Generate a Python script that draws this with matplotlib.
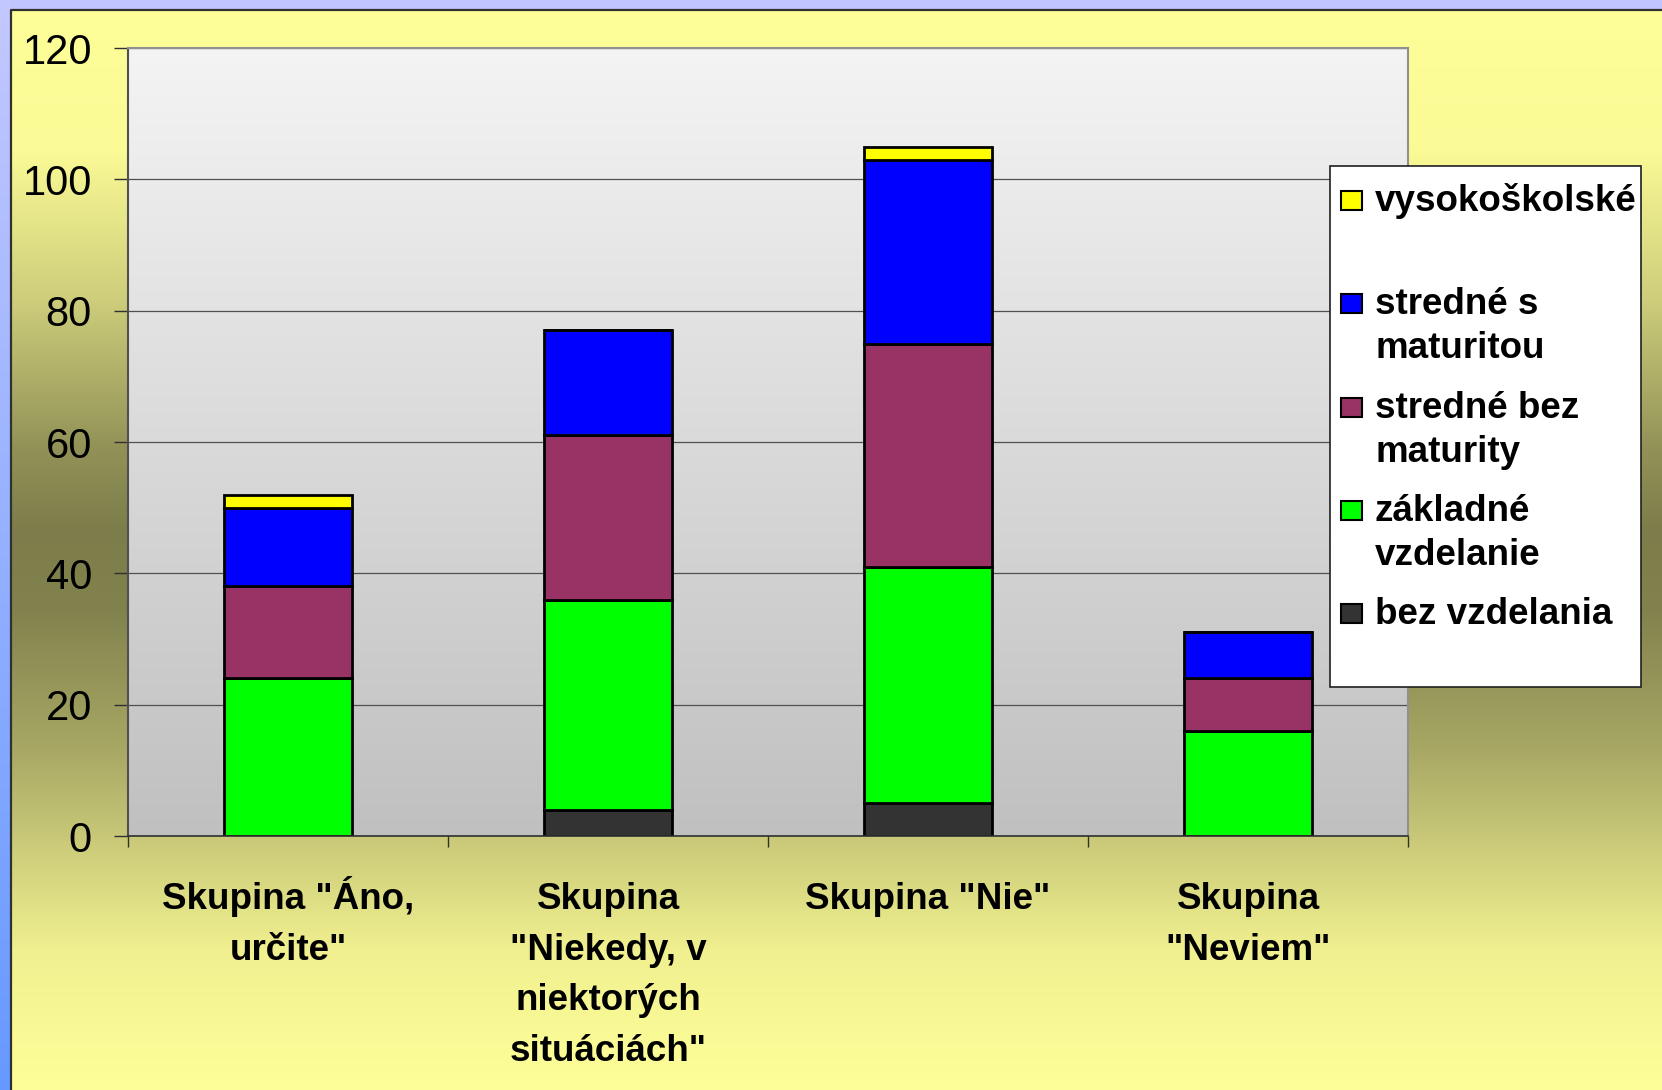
import numpy as np
import matplotlib
matplotlib.use("Agg")
from matplotlib import pyplot as plt
from matplotlib.patches import Rectangle
from matplotlib.lines import Line2D
from matplotlib.transforms import blended_transform_factory

plt.rcParams['font.family'] = ['Liberation Sans', 'DejaVu Sans']

# data (stacked bottom -> top)
categories = ['Skupina "Áno,\nurčite"',
              'Skupina\n"Niekedy, v\nniektorých\nsituáciách"',
              'Skupina "Nie"',
              'Skupina\n"Neviem"']
series_names = ['bez vzdelania', 'základné\nvzdelanie', 'stredné bez\nmaturity',
                'stredné s\nmaturitou', 'vysokoškolské']
bez_vzdelania = [0, 4, 5, 0]
zakladne = [24, 32, 36, 16]
stredne_bez = [14, 25, 34, 8]
stredne_s = [12, 16, 28, 7]
vysokoskolske = [2, 0, 2, 0]
series_values = [bez_vzdelania, zakladne, stredne_bez, stredne_s, vysokoskolske]
colors = ['#333333', '#00ff00', '#993366', '#0000ff', '#ffff00']
yticks = [0, 20, 40, 60, 80, 100, 120]

W, H = 1662, 1090
fig = plt.figure(figsize=(W / 100, H / 100), dpi=100)

def fx(x):
    return x / W

def fy(y):
    return 1 - y / H

# ---- background: lavender border + yellow/olive gradient panel
bg = fig.add_axes([0, 0, 1, 1], zorder=-10)
bg.set_axis_off()
img = np.zeros((H, W, 3))
img[:, :] = np.array([192, 196, 255]) / 255
yy = np.arange(H)
# left blue strip, lavender at top -> blue at bottom
blue_top = np.array([196, 200, 255])
blue_bot = np.array([102, 153, 255])
t = (yy / (H - 1))[:, None]
img[:, :11] = ((1 - t) * blue_top + t * blue_bot)[:, None, :] / 255
# yellow panel
stops_y = [10, 150, 300, 450, 530, 610, 750, 850, 950, 1090]
stops_r = [255, 250, 205, 145, 125, 130, 168, 205, 240, 255]
r = np.interp(yy, stops_y, stops_r)
b = r * 0.6
panel = np.stack([r, r, b], axis=1) / 255
img[10:, 11:] = panel[10:, None, :]
bg.imshow(img, extent=(0, W, H, 0), aspect='auto', interpolation='bilinear')
bg.set_xlim(0, W)
bg.set_ylim(H, 0)
bg.add_line(Line2D([11, 11, W], [H, 10, 10], color='#303030', lw=1.6))

# ---- main plot
left, top, right, bottom = 128, 48, 1408, 836
ax = fig.add_axes([fx(left), fy(bottom), fx(right - left), (bottom - top) / H])
grad = np.linspace(244, 192, 256)[:, None] / 255
grad = np.repeat(grad[:, :, None], 3, axis=2)
ax.imshow(grad, extent=(0, 1, 0, 1), transform=ax.transAxes, aspect='auto',
          zorder=0, interpolation='bilinear')

x = np.arange(len(categories))
base = np.zeros(len(categories))
for vals, col in zip(series_values, colors):
    ax.bar(x, vals, width=0.4, bottom=base, color=col, edgecolor='black',
           linewidth=2, zorder=2)
    base = base + np.array(vals)

ax.set_xlim(-0.5, len(categories) - 0.5)
ax.set_ylim(0, 120)
ax.set_yticks(yticks)
ax.yaxis.grid(True, color='#505050', lw=0.9)
ax.set_axisbelow(True)

ax.tick_params(axis='y', labelsize=30, length=10, width=1, pad=16,
               color='#303030', direction='out')
ax.set_xticks(x)
ax.set_xticklabels([])
ax.set_xticks(np.arange(-0.5, len(categories)), minor=True)
ax.tick_params(axis='x', which='major', length=0)
ax.tick_params(axis='x', which='minor', length=8, width=1, color='#303030',
               direction='out')

for s in ['top', 'right']:
    ax.spines[s].set_color('#909090')
    ax.spines[s].set_linewidth(1.5)
ax.spines['left'].set_color('#505050')
ax.spines['left'].set_linewidth(1.5)
ax.spines['bottom'].set_color('#303030')
ax.spines['bottom'].set_linewidth(1.2)

# category labels, one text per line (first baseline ~73 px below the axis)
trans = blended_transform_factory(ax.transData, ax.transAxes)
ph = bottom - top
for xi, cat in zip(x, categories):
    for j, line in enumerate(cat.split('\n')):
        ax.text(xi, -(73 + 50.7 * j) / ph, line, transform=trans, ha='center',
                va='baseline', fontsize=26.5, fontweight='bold')

# ---- legend box (entries top -> bottom)
fig.add_artist(Rectangle((fx(1330), fy(687)), fx(1641 - 1330), (687 - 166) / H,
                         transform=fig.transFigure, facecolor='white',
                         edgecolor='#202020', lw=1.2, zorder=5))
for i, k in enumerate(range(len(series_names) - 1, -1, -1)):
    base_y = 211 + 103.3 * i
    fig.add_artist(Rectangle((fx(1341), fy(base_y - 1)), fx(21), 19 / H,
                             transform=fig.transFigure, facecolor=colors[k],
                             edgecolor='black', lw=1.5, zorder=6))
    for j, line in enumerate(series_names[k].split('\n')):
        fig.text(fx(1375), fy(base_y + 44 * j), line, ha='left', va='baseline',
                 fontsize=26.5, fontweight='bold', zorder=7)

fig.savefig('out.png', dpi=100)
